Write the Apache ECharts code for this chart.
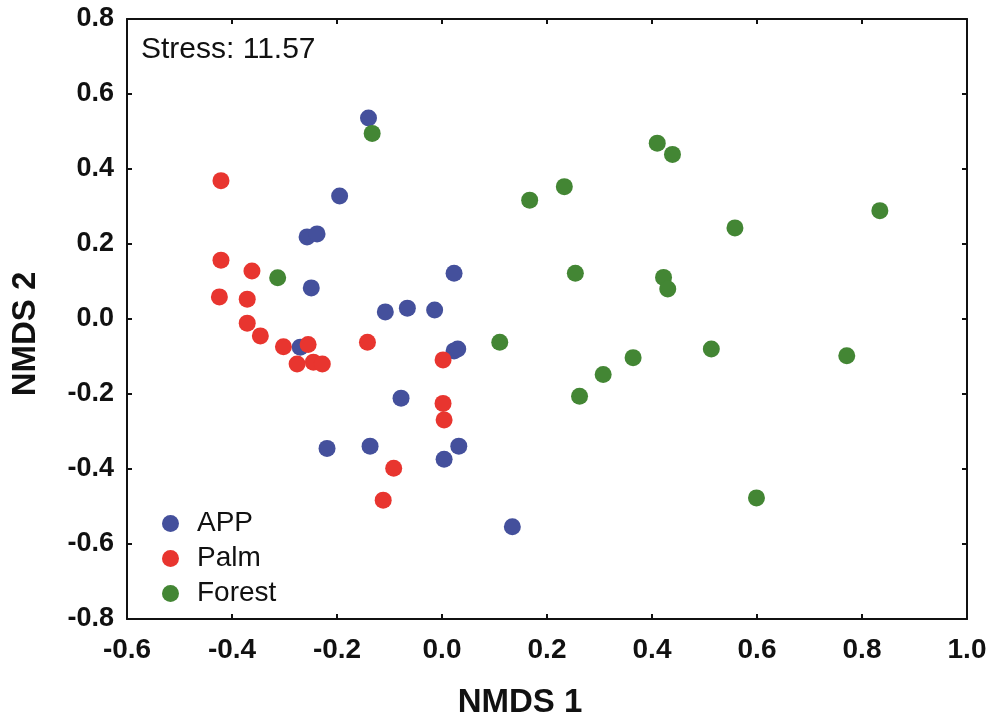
<!DOCTYPE html>
<html>
<head>
<meta charset="utf-8">
<script src="https://cdn.jsdelivr.net/npm/echarts@6/dist/echarts.min.js"></script>
<style>
html,body{margin:0;padding:0;background:#fff;}
#chart{width:993px;height:724px;}
</style>
</head>
<body>
<div id="chart"></div>
<script>
// ---- data (NMDS scores) ----
const appX = [-0.140, -0.195, -0.257, -0.238, -0.249, 0.023, -0.108, -0.066, -0.014, -0.270, 0.023, 0.030, -0.078, -0.219, -0.137, 0.004, 0.032, 0.134];
const appY = [0.536, 0.328, 0.219, 0.227, 0.083, 0.122, 0.019, 0.029, 0.024, -0.075, -0.085, -0.080, -0.211, -0.345, -0.339, -0.374, -0.339, -0.554];

const palmX = [-0.421, -0.421, -0.362, -0.424, -0.371, -0.371, -0.346, -0.302, -0.255, -0.276, -0.245, -0.228, -0.142, 0.002, 0.002, 0.004, -0.092, -0.112];
const palmY = [0.369, 0.157, 0.128, 0.059, 0.053, -0.011, -0.045, -0.074, -0.068, -0.120, -0.115, -0.120, -0.062, -0.109, -0.225, -0.269, -0.398, -0.483];

const forestX = [-0.133, -0.313, 0.410, 0.439, 0.233, 0.167, 0.834, 0.558, 0.254, 0.422, 0.430, 0.110, 0.513, 0.364, 0.771, 0.307, 0.262, 0.599];
const forestY = [0.495, 0.110, 0.469, 0.439, 0.353, 0.317, 0.289, 0.243, 0.122, 0.111, 0.080, -0.062, -0.080, -0.103, -0.098, -0.148, -0.206, -0.477];

const seriesNames = ['APP', 'Palm', 'Forest'];
const seriesColors = ['#44509c', '#e8352f', '#438634'];
const stressText = 'Stress: 11.57';
const xName = 'NMDS 1';
const yName = 'NMDS 2';
const xTicks = {min: -0.6, max: 1.0, step: 0.2};
const yTicks = {min: -0.8, max: 0.8, step: 0.2};

function zip(xs, ys) { return xs.map((x, i) => [x, ys[i]]); }
const seriesData = [zip(appX, appY), zip(palmX, palmY), zip(forestX, forestY)];

const fontFam = '"Liberation Sans", Arial, Helvetica, sans-serif';

const chart = echarts.init(document.getElementById('chart'), null, {renderer: 'canvas'});

const axisCommon = {
  axisLine: {show: true, onZero: false, lineStyle: {color: '#111', width: 2}},
  axisTick: {show: true, inside: true, length: 5, lineStyle: {color: '#111', width: 2}},
  splitLine: {show: false}
};

const option = {
  backgroundColor: '#ffffff',
  animation: false,
  grid: {left: 127, right: 26, top: 19, bottom: 105, containLabel: false},
  xAxis: [
    Object.assign({}, axisCommon, {
      type: 'value', position: 'bottom', min: xTicks.min, max: xTicks.max, interval: xTicks.step,
      axisLabel: {show: true, margin: 17, color: '#111', fontSize: 28, fontWeight: 'bold', fontFamily: fontFam,
        formatter: v => v.toFixed(1)}
    }),
    Object.assign({}, axisCommon, {
      type: 'value', position: 'top', min: xTicks.min, max: xTicks.max, interval: xTicks.step,
      axisLabel: {show: false}
    })
  ],
  yAxis: [
    Object.assign({}, axisCommon, {
      type: 'value', position: 'left', min: yTicks.min, max: yTicks.max, interval: yTicks.step,
      axisLabel: {show: true, margin: 13, color: '#111', fontSize: 27, fontWeight: 'bold', fontFamily: fontFam,
        formatter: v => v.toFixed(1)}
    }),
    Object.assign({}, axisCommon, {
      type: 'value', position: 'right', min: yTicks.min, max: yTicks.max, interval: yTicks.step,
      axisLabel: {show: false}
    })
  ],
  legend: {
    orient: 'vertical', left: 162, top: 509, itemGap: 6, padding: 0,
    icon: 'circle', itemWidth: 17, itemHeight: 17,
    data: seriesNames,
    textStyle: {fontSize: 28, lineHeight: 29, color: '#111', fontFamily: fontFam, padding: [0, 0, 0, 13]}
  },
  graphic: [
    {type: 'text', x: 141, y: 50, style: {text: stressText, fontSize: 30, fill: '#111', fontFamily: fontFam, align: 'left', verticalAlign: 'middle'}},
    {type: 'text', x: 520, y: 703, style: {text: xName, fontSize: 33, fontWeight: 'bold', fill: '#111', fontFamily: fontFam, align: 'center', verticalAlign: 'middle'}},
    {type: 'text', x: 26, y: 334, rotation: Math.PI / 2, style: {text: yName, fontSize: 33, fontWeight: 'bold', fill: '#111', fontFamily: fontFam, align: 'center', verticalAlign: 'middle'}}
  ],
  series: seriesNames.map((name, i) => ({
    name: name,
    type: 'scatter',
    xAxisIndex: 0, yAxisIndex: 0,
    symbol: 'circle',
    symbolSize: 17,
    itemStyle: {color: seriesColors[i], opacity: 1},
    data: seriesData[i]
  }))
};
chart.setOption(option);
</script>
</body>
</html>
